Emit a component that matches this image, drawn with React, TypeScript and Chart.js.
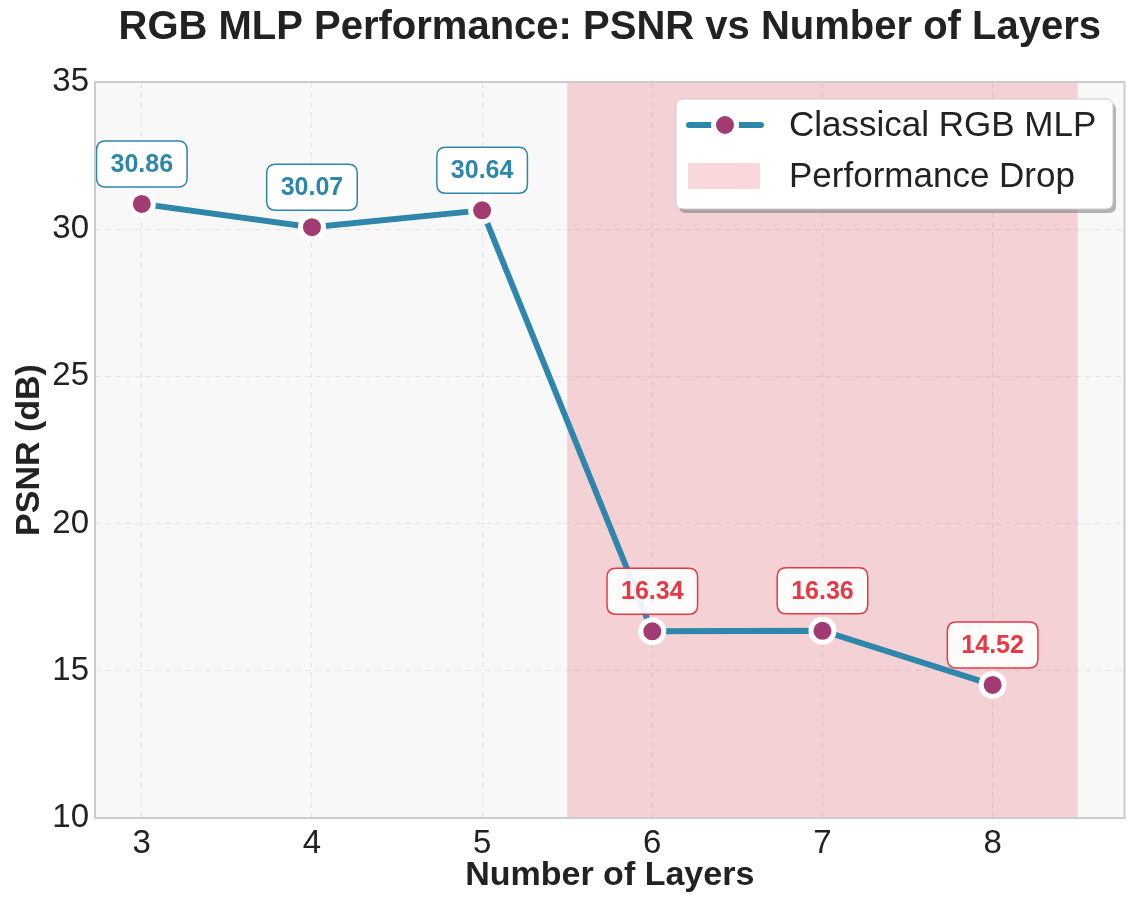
import React, { useEffect, useRef } from "react";
import { Chart, registerables } from "chart.js";

Chart.register(...registerables);

const layers = [3, 4, 5, 6, 7, 8];
const psnr = [30.86, 30.07, 30.64, 16.34, 16.36, 14.52];
const xTicks = [3, 4, 5, 6, 7, 8];
const yTicks = [10, 15, 20, 25, 30, 35];
const dropStart = 5.5;
const dropEnd = 8.5;
const seriesLabel = "Classical RGB MLP";
const dropLabel = "Performance Drop";
const chartTitle = "RGB MLP Performance: PSNR vs Number of Layers";

const BLUE = "#2e86ab";
const RED = "#e63946";
const PURPLE = "#a23b72";
const FONT = "'Liberation Sans', Arial, sans-serif";

function roundRect(ctx: CanvasRenderingContext2D, x: number, y: number, w: number, h: number, r: number) {
  ctx.beginPath();
  ctx.moveTo(x + r, y);
  ctx.lineTo(x + w - r, y);
  ctx.quadraticCurveTo(x + w, y, x + w, y + r);
  ctx.lineTo(x + w, y + h - r);
  ctx.quadraticCurveTo(x + w, y + h, x + w - r, y + h);
  ctx.lineTo(x + r, y + h);
  ctx.quadraticCurveTo(x, y + h, x, y + h - r);
  ctx.lineTo(x, y + r);
  ctx.quadraticCurveTo(x, y, x + r, y);
  ctx.closePath();
}

const decorPlugin = {
  id: "decor",
  beforeDraw(chart: any) {
    const { ctx, chartArea: a, scales } = chart;
    ctx.save();
    ctx.fillStyle = "#ffffff";
    ctx.fillRect(0, 0, chart.width, chart.height);
    ctx.fillStyle = "#f8f8f8";
    ctx.fillRect(a.left, a.top, a.right - a.left, a.bottom - a.top);
    const x0 = scales.x.getPixelForValue(dropStart);
    const x1 = scales.x.getPixelForValue(dropEnd);
    ctx.fillStyle = "rgba(230,57,70,0.2)";
    ctx.fillRect(x0, a.top, x1 - x0, a.bottom - a.top);
    ctx.restore();
  },
  afterDatasetsDraw(chart: any) {
    const { ctx } = chart;
    const meta = chart.getDatasetMeta(0);
    ctx.save();
    ctx.font = `bold 25px ${FONT}`;
    ctx.textAlign = "center";
    ctx.textBaseline = "middle";
    meta.data.forEach((pt: any, i: number) => {
      const txt = psnr[i].toFixed(2);
      const col = layers[i] > dropStart ? RED : BLUE;
      const w = ctx.measureText(txt).width + 28;
      const h = 46;
      const cx = pt.x;
      const cy = pt.y - 40;
      roundRect(ctx, cx - w / 2, cy - h / 2, w, h, 9);
      ctx.fillStyle = "rgba(255,255,255,0.9)";
      ctx.fill();
      ctx.lineWidth = 1.5;
      ctx.strokeStyle = col;
      ctx.stroke();
      ctx.fillStyle = col;
      ctx.fillText(txt, cx, cy + 1);
    });
    ctx.restore();
  },
  afterDraw(chart: any) {
    const { ctx, chartArea: a } = chart;
    ctx.save();
    // frame
    ctx.strokeStyle = "#cccccc";
    ctx.lineWidth = 2;
    ctx.strokeRect(a.left, a.top, a.right - a.left, a.bottom - a.top);

    // title
    ctx.fillStyle = "#222222";
    ctx.font = `bold 40px ${FONT}`;
    ctx.textAlign = "center";
    ctx.textBaseline = "middle";
    ctx.fillText(chartTitle, (a.left + a.right) / 2, 28);

    // legend
    const lx = 676, ly = 99, lw = 437, lh = 110;
    roundRect(ctx, lx + 3, ly + 4, lw, lh, 7);
    ctx.fillStyle = "rgba(120,120,120,0.55)";
    ctx.fill();
    roundRect(ctx, lx, ly, lw, lh, 7);
    ctx.fillStyle = "#ffffff";
    ctx.fill();
    ctx.strokeStyle = "#cccccc";
    ctx.lineWidth = 1;
    ctx.stroke();

    const r1 = 125;
    ctx.strokeStyle = BLUE;
    ctx.lineWidth = 6;
    ctx.lineCap = "round";
    ctx.beginPath();
    ctx.moveTo(689, r1);
    ctx.lineTo(761, r1);
    ctx.stroke();
    ctx.beginPath();
    ctx.arc(725, r1, 11.5, 0, Math.PI * 2);
    ctx.fillStyle = PURPLE;
    ctx.fill();
    ctx.lineWidth = 5;
    ctx.strokeStyle = "#ffffff";
    ctx.stroke();

    ctx.fillStyle = "rgba(230,57,70,0.2)";
    ctx.fillRect(688, 163, 72, 26);

    ctx.fillStyle = "#222222";
    ctx.font = `35px ${FONT}`;
    ctx.textAlign = "left";
    ctx.textBaseline = "middle";
    ctx.fillText(seriesLabel, 789, r1 + 1);
    ctx.fillText(dropLabel, 789, 177);
    ctx.restore();
  },
};

export default function App() {
  const ref = useRef<HTMLCanvasElement | null>(null);
  useEffect(() => {
    document.body.style.margin = "0";
    if (!ref.current) return;
    const chart = new Chart(ref.current, {
      type: "line",
      data: {
        datasets: [
          {
            label: seriesLabel,
            data: layers.map((x, i) => ({ x, y: psnr[i] })),
            borderColor: BLUE,
            borderWidth: 6,
            pointBackgroundColor: PURPLE,
            pointBorderColor: "#ffffff",
            pointBorderWidth: 5,
            pointRadius: 11.5,
            tension: 0,
          },
        ],
      },
      options: {
        animation: false,
        responsive: false,
        devicePixelRatio: 1,
        layout: { padding: { top: 82, right: 13, left: 0, bottom: 0 } },
        plugins: {
          legend: { display: false },
          title: { display: false },
          tooltip: { enabled: false },
        },
        scales: {
          x: {
            type: "linear",
            min: 2.725,
            max: 8.775,
            afterBuildTicks: (s: any) => {
              s.ticks = xTicks.map((v) => ({ value: v }));
            },
            afterFit: (s: any) => {
              s.height = 90;
            },
            grid: { color: "rgba(0,0,0,0.08)", drawTicks: false, lineWidth: 1 },
            border: { display: false, dash: [6, 4] },
            ticks: {
              padding: 6,
              color: "#222222",
              font: { family: FONT, size: 33 },
              callback: (v: any) => String(v),
            },
            title: {
              display: true,
              text: "Number of Layers",
              color: "#222222",
              font: { family: FONT, size: 34, weight: "bold" },
              padding: { top: 0, bottom: 12 },
            },
          },
          y: {
            type: "linear",
            min: 10,
            max: 35,
            afterBuildTicks: (s: any) => {
              s.ticks = yTicks.map((v) => ({ value: v }));
            },
            afterFit: (s: any) => {
              s.width = 95;
            },
            grid: { color: "rgba(0,0,0,0.08)", drawTicks: false, lineWidth: 1 },
            border: { display: false, dash: [6, 4] },
            ticks: {
              padding: 6,
              color: "#222222",
              font: { family: FONT, size: 33 },
            },
            title: {
              display: true,
              text: "PSNR (dB)",
              color: "#222222",
              font: { family: FONT, size: 34, weight: "bold" },
              padding: { top: 9, bottom: 0 },
            },
          },
        },
      },
      plugins: [decorPlugin],
    } as any);
    return () => chart.destroy();
  }, []);
  return <canvas ref={ref} width={1141} height={908} style={{ display: "block" }} />;
}
